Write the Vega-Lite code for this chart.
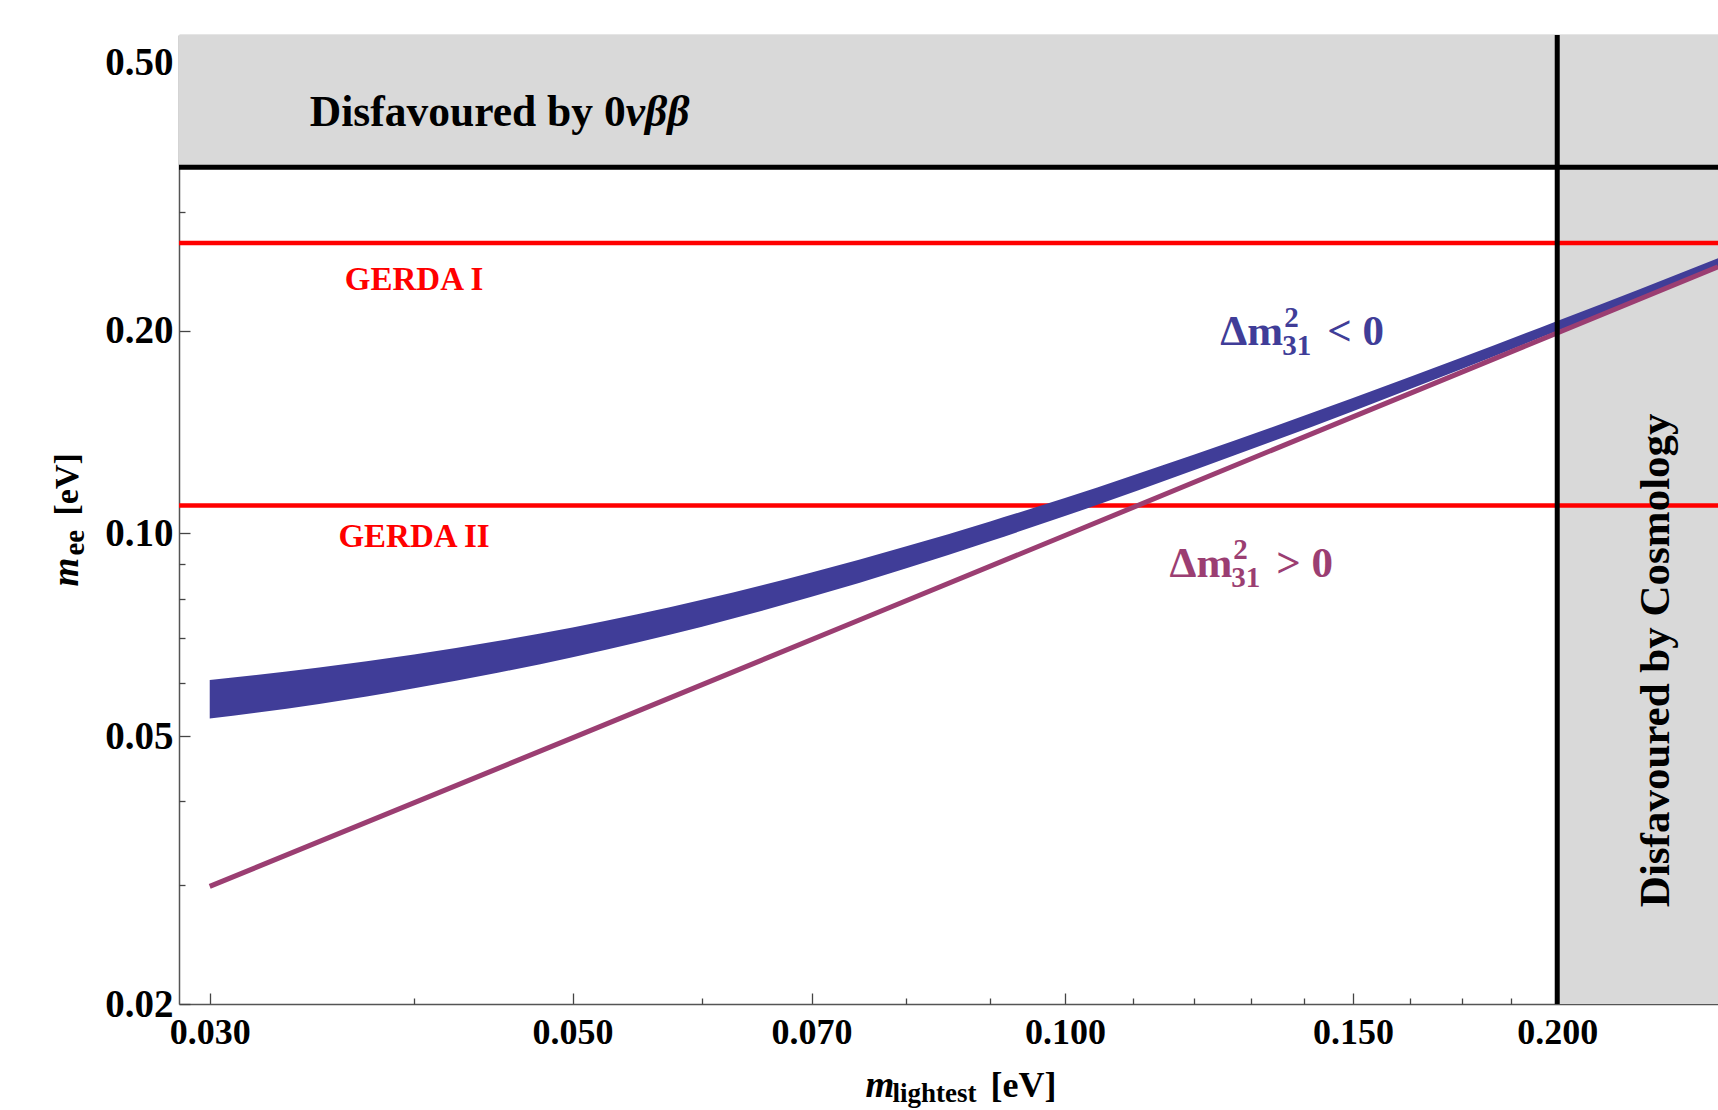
{
  "$schema": "https://vega.github.io/schema/vega-lite/v6.json",
  "width": 1539,
  "height": 969,
  "autosize": {"type": "none"},
  "padding": {"left": 179, "top": 35, "right": 0, "bottom": 106},
  "background": "white",
  "config": {
    "view": {"stroke": null},
    "axis": {"grid": false, "labelFont": "Liberation Serif", "titleFont": "Liberation Serif", "labelFontWeight": "bold", "titleFontWeight": "bold", "labelColor": "#000", "titleColor": "#000", "tickColor": "#444", "domainColor": "#555", "domainWidth": 1.5, "tickWidth": 1.3, "labelOverlap": false, "labelFlush": false, "labelBound": false},
    "text": {"font": "Liberation Serif", "fontWeight": "bold"}
  },
  "datasets": {
    "zones": [
      {"zone": "0vbb", "x1": 0.02873, "x2": 0.2508, "y1": 0.35, "y2": 0.55},
      {"zone": "cosmology", "x1": 0.2, "x2": 0.2508, "y1": 0.02, "y2": 0.55}
    ],
    "gerda": [
      {"exp": "GERDA I", "mee": 0.27, "lx": 0.04, "ly": 0.2297},
      {"exp": "GERDA II", "mee": 0.11, "lx": 0.04, "ly": 0.0954}
    ],
    "ih": [
      {"m": 0.030, "upper": 0.0606, "lower": 0.0531},
      {"m": 0.035, "upper": 0.0632, "lower": 0.0558},
      {"m": 0.040, "upper": 0.0661, "lower": 0.0589},
      {"m": 0.045, "upper": 0.0692, "lower": 0.0621},
      {"m": 0.050, "upper": 0.0725, "lower": 0.0655},
      {"m": 0.060, "upper": 0.0797, "lower": 0.0727},
      {"m": 0.070, "upper": 0.0875, "lower": 0.0805},
      {"m": 0.080, "upper": 0.0957, "lower": 0.0888},
      {"m": 0.090, "upper": 0.1042, "lower": 0.0974},
      {"m": 0.100, "upper": 0.1129, "lower": 0.1061},
      {"m": 0.120, "upper": 0.1310, "lower": 0.1242},
      {"m": 0.150, "upper": 0.1589, "lower": 0.1519},
      {"m": 0.175, "upper": 0.1827, "lower": 0.1756},
      {"m": 0.200, "upper": 0.2068, "lower": 0.1998},
      {"m": 0.225, "upper": 0.2310, "lower": 0.2238},
      {"m": 0.2508, "upper": 0.2562, "lower": 0.2490}
    ],
    "nh": [
      {"m": 0.030, "mee": 0.0299},
      {"m": 0.050, "mee": 0.0497},
      {"m": 0.075, "mee": 0.0745},
      {"m": 0.100, "mee": 0.0993},
      {"m": 0.150, "mee": 0.1490},
      {"m": 0.200, "mee": 0.1985},
      {"m": 0.2508, "mee": 0.2490}
    ],
    "bound": [{"mee": 0.35}],
    "cosmo": [{"m": 0.2}],
    "cosmolabel": [{"lx": 0.2299, "ly": 0.0648, "t": "Disfavoured by Cosmology"}],
    "dbb": [{"m": 0.05388, "mee": 0.4024, "a": "Disfavoured by 0", "b": "νββ"}],
    "dm": [
      {"h": "IH", "m": 0.13597, "mee": 0.19024, "rel": "< 0"},
      {"h": "NH", "m": 0.12656, "mee": 0.08613, "rel": "> 0"}
    ]
  },
  "resolve": {"axis": {"x": "independent", "y": "independent"}},
  "layer": [
    {
      "data": {"name": "zones"},
      "mark": {"type": "rect", "color": "#d9d9d9"},
      "encoding": {
        "x": {"field": "x1", "type": "quantitative", "scale": {"type": "log", "domain": [0.02873, 0.2508], "nice": false},
              "axis": {"orient": "bottom", "values": [0.03, 0.05, 0.07, 0.1, 0.15, 0.2], "format": ".3f", "tickSize": -11, "labelPadding": 22, "labelFontSize": 36, "title": null}},
        "x2": {"field": "x2"},
        "y": {"field": "y1", "type": "quantitative", "scale": {"type": "log", "domain": [0.02, 0.55], "nice": false},
              "axis": {"orient": "left", "values": [0.02, 0.05, 0.1, 0.2, 0.5], "format": ".2f", "tickSize": -11, "labelPadding": 17, "labelFontSize": 39, "title": null}},
        "y2": {"field": "y2"}
      }
    },
    {
      "data": {"name": "gerda"},
      "mark": {"type": "rule", "color": "#ff0000", "strokeWidth": 4.5},
      "encoding": {
        "y": {"field": "mee", "type": "quantitative", "scale": {"type": "log", "domain": [0.02, 0.55], "nice": false},
              "axis": {"orient": "left", "values": [0.03, 0.04, 0.06, 0.07, 0.08, 0.09, 0.3, 0.4], "tickSize": -6, "labels": false, "domain": false, "title": null}}
      }
    },
    {
      "data": {"name": "ih"},
      "mark": {"type": "area", "color": "#403d98", "interpolate": "monotone", "clip": true},
      "encoding": {
        "x": {"field": "m", "type": "quantitative", "scale": {"type": "log", "domain": [0.02873, 0.2508], "nice": false},
              "axis": {"orient": "bottom", "values": [0.04, 0.06, 0.08, 0.09, 0.11, 0.12, 0.13, 0.14, 0.1625, 0.175, 0.1875], "tickSize": -6, "labels": false, "domain": false, "title": null}},
        "y": {"field": "upper", "type": "quantitative", "scale": {"type": "log", "domain": [0.02, 0.55], "nice": false},
              "axis": {"orient": "left", "ticks": false, "labels": false, "domain": false, "title": "m", "titleFontStyle": "italic", "titleFontSize": 37, "titleAngle": 270, "titleAlign": "left", "titleBaseline": "alphabetic", "titleX": -102, "titleY": 551}},
        "y2": {"field": "lower"}
      }
    },
    {
      "data": {"name": "nh"},
      "mark": {"type": "line", "color": "#9b3e72", "strokeWidth": 5, "clip": true},
      "encoding": {
        "x": {"field": "m", "type": "quantitative", "scale": {"type": "log", "domain": [0.02873, 0.2508], "nice": false},
              "axis": {"orient": "top", "values": [0.03, 0.05, 0.07, 0.1, 0.15, 0.2], "tickSize": -11, "labels": false, "domainColor": "#999", "title": null}},
        "y": {"field": "mee", "type": "quantitative", "scale": {"type": "log", "domain": [0.02, 0.55], "nice": false},
              "axis": {"orient": "left", "ticks": false, "labels": false, "domain": false, "title": "ee", "titleFontSize": 29, "titleAngle": 270, "titleAlign": "left", "titleBaseline": "alphabetic", "titleX": -96, "titleY": 520}}
      }
    },
    {
      "data": {"name": "bound"},
      "mark": {"type": "rule", "color": "#000", "strokeWidth": 5},
      "encoding": {
        "y": {"field": "mee", "type": "quantitative", "scale": {"type": "log", "domain": [0.02, 0.55], "nice": false},
              "axis": {"orient": "left", "ticks": false, "labels": false, "domain": false, "title": "[eV]", "titleFontSize": 34, "titleAngle": 270, "titleAlign": "left", "titleBaseline": "alphabetic", "titleX": -102, "titleY": 480}}
      }
    },
    {
      "data": {"name": "cosmo"},
      "mark": {"type": "rule", "color": "#000", "strokeWidth": 5},
      "encoding": {
        "x": {"field": "m", "type": "quantitative", "scale": {"type": "log", "domain": [0.02873, 0.2508], "nice": false},
              "axis": {"orient": "top", "values": [0.04, 0.06, 0.08, 0.09, 0.11, 0.12, 0.13, 0.14, 0.1625, 0.175, 0.1875], "tickSize": -6, "labels": false, "domain": false, "title": null}}
      }
    },
    {
      "data": {"name": "dbb"},
      "mark": {"type": "text", "fontSize": 43.5, "align": "right", "baseline": "alphabetic", "color": "#000"},
      "encoding": {
        "x": {"field": "m", "type": "quantitative", "scale": {"type": "log", "domain": [0.02873, 0.2508], "nice": false},
              "axis": {"orient": "bottom", "ticks": false, "labels": false, "domain": false, "title": "m", "titleFontStyle": "italic", "titleFontSize": 37, "titleAlign": "left", "titleBaseline": "alphabetic", "titleAngle": 0, "titleX": 686, "titleY": 92}},
        "y": {"field": "mee", "type": "quantitative", "scale": {"type": "log", "domain": [0.02, 0.55], "nice": false}, "axis": null},
        "text": {"field": "a"}
      }
    },
    {
      "data": {"name": "dbb"},
      "mark": {"type": "text", "fontSize": 43.5, "fontStyle": "italic", "align": "left", "baseline": "alphabetic", "color": "#000"},
      "encoding": {
        "x": {"field": "m", "type": "quantitative", "scale": {"type": "log", "domain": [0.02873, 0.2508], "nice": false},
              "axis": {"orient": "bottom", "ticks": false, "labels": false, "domain": false, "title": "lightest", "titleFontSize": 27, "titleAlign": "left", "titleBaseline": "alphabetic", "titleAngle": 0, "titleX": 713, "titleY": 97}},
        "y": {"field": "mee", "type": "quantitative", "scale": {"type": "log", "domain": [0.02, 0.55], "nice": false}, "axis": null},
        "text": {"field": "b"}
      }
    },
    {
      "data": {"name": "gerda"},
      "mark": {"type": "text", "fontSize": 33, "align": "center", "baseline": "alphabetic", "color": "#ff0000"},
      "encoding": {
        "x": {"field": "lx", "type": "quantitative", "scale": {"type": "log", "domain": [0.02873, 0.2508], "nice": false},
              "axis": {"orient": "bottom", "ticks": false, "labels": false, "domain": false, "title": "[eV]", "titleFontSize": 36, "titleAlign": "left", "titleBaseline": "alphabetic", "titleAngle": 0, "titleX": 811, "titleY": 92}},
        "y": {"field": "ly", "type": "quantitative", "scale": {"type": "log", "domain": [0.02, 0.55], "nice": false}, "axis": null},
        "text": {"field": "exp"}
      }
    },
    {
      "data": {"name": "cosmolabel"},
      "mark": {"type": "text", "fontSize": 43, "angle": 270, "align": "center", "baseline": "middle", "color": "#000"},
      "encoding": {
        "x": {"field": "lx", "type": "quantitative", "scale": {"type": "log", "domain": [0.02873, 0.2508], "nice": false}, "axis": null},
        "y": {"field": "ly", "type": "quantitative", "scale": {"type": "log", "domain": [0.02, 0.55], "nice": false}, "axis": null},
        "text": {"field": "t"}
      }
    },
    {
      "data": {"name": "dm"},
      "mark": {"type": "text", "text": "Δm", "fontSize": 43, "align": "right", "baseline": "alphabetic"},
      "encoding": {
        "x": {"field": "m", "type": "quantitative", "scale": {"type": "log", "domain": [0.02873, 0.2508], "nice": false}, "axis": null},
        "y": {"field": "mee", "type": "quantitative", "scale": {"type": "log", "domain": [0.02, 0.55], "nice": false}, "axis": null},
        "color": {"field": "h", "type": "nominal", "scale": {"domain": ["IH", "NH"], "range": ["#403d98", "#9b3e72"]}, "legend": null}
      }
    },
    {
      "data": {"name": "dm"},
      "mark": {"type": "text", "text": "2", "fontSize": 29, "align": "left", "baseline": "alphabetic", "dx": 1, "dy": -18},
      "encoding": {
        "x": {"field": "m", "type": "quantitative", "scale": {"type": "log", "domain": [0.02873, 0.2508], "nice": false}, "axis": null},
        "y": {"field": "mee", "type": "quantitative", "scale": {"type": "log", "domain": [0.02, 0.55], "nice": false}, "axis": null},
        "color": {"field": "h", "type": "nominal", "scale": {"domain": ["IH", "NH"], "range": ["#403d98", "#9b3e72"]}, "legend": null}
      }
    },
    {
      "data": {"name": "dm"},
      "mark": {"type": "text", "text": "31", "fontSize": 29, "align": "left", "baseline": "alphabetic", "dx": -1, "dy": 10},
      "encoding": {
        "x": {"field": "m", "type": "quantitative", "scale": {"type": "log", "domain": [0.02873, 0.2508], "nice": false}, "axis": null},
        "y": {"field": "mee", "type": "quantitative", "scale": {"type": "log", "domain": [0.02, 0.55], "nice": false}, "axis": null},
        "color": {"field": "h", "type": "nominal", "scale": {"domain": ["IH", "NH"], "range": ["#403d98", "#9b3e72"]}, "legend": null}
      }
    },
    {
      "data": {"name": "dm"},
      "mark": {"type": "text", "fontSize": 43, "align": "left", "baseline": "alphabetic", "dx": 44},
      "encoding": {
        "x": {"field": "m", "type": "quantitative", "scale": {"type": "log", "domain": [0.02873, 0.2508], "nice": false}, "axis": null},
        "y": {"field": "mee", "type": "quantitative", "scale": {"type": "log", "domain": [0.02, 0.55], "nice": false}, "axis": null},
        "color": {"field": "h", "type": "nominal", "scale": {"domain": ["IH", "NH"], "range": ["#403d98", "#9b3e72"]}, "legend": null},
        "text": {"field": "rel"}
      }
    }
  ]
}
